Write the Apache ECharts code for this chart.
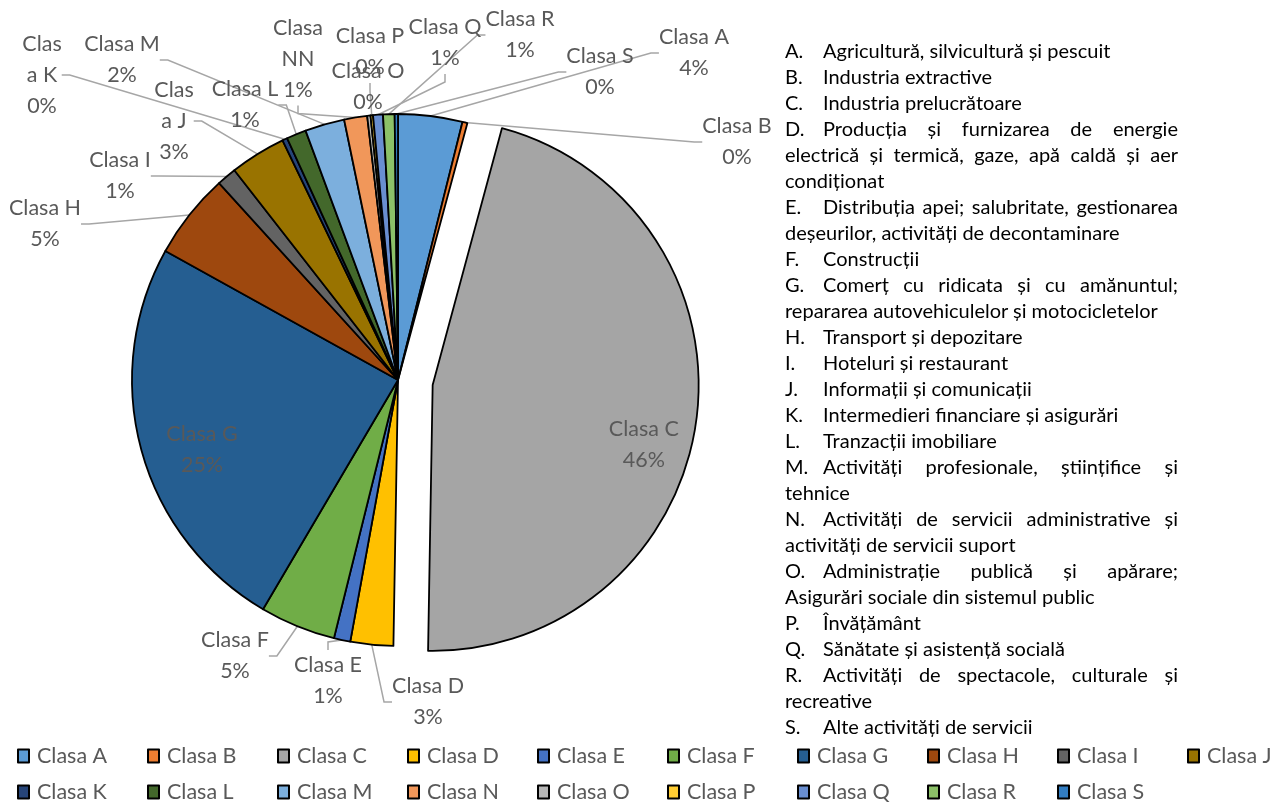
<!DOCTYPE html>
<html><head><meta charset="utf-8">
<script src="https://cdn.jsdelivr.net/npm/echarts@6/dist/echarts.min.js"></script>
<style>
html,body{margin:0;padding:0;background:#fff;}
#wrap{position:relative;width:1278px;height:803px;overflow:hidden;}
#chart{position:absolute;left:0;top:0;width:1278px;height:803px;}
#notes{position:absolute;left:785px;top:37px;width:393px;font-family:Lato,"Open Sans",sans-serif;font-size:20px;line-height:26px;color:#000;}
#notes .ln{white-space:nowrap;height:26px;}
#notes .j{text-align:justify;text-align-last:justify;white-space:normal;}
#notes .k{display:inline-block;width:38px;}
</style></head>
<body>
<div id="wrap"><div id="chart"></div><div id="notes"></div></div>
<script>
const categories = ['Clasa A','Clasa B','Clasa C','Clasa D','Clasa E','Clasa F','Clasa G','Clasa H','Clasa I','Clasa J','Clasa K','Clasa L','Clasa M','Clasa N','Clasa O','Clasa P','Clasa Q','Clasa R','Clasa S'];
const values = [3.9, 0.3, 46.1, 2.6, 1.0, 4.6, 24.6, 5.2, 1.2, 3.4, 0.3, 1.2, 2.4, 1.4, 0.2, 0.15, 0.6, 0.7, 0.2];
const labelTexts = ['Clasa A','Clasa B','Clasa C','Clasa D','Clasa E','Clasa F','Clasa G','Clasa H','Clasa I','Clas\na J','Clas\na K','Clasa L','Clasa M','Clasa\nNN','Clasa O','Clasa P','Clasa Q','Clasa R','Clasa S'];
const colors = ['#5B9BD5','#ED7D31','#A5A5A5','#FFC000','#4472C4','#70AD47','#255E91','#9E480E','#636363','#997300','#264478','#43682B','#7CAFDD','#F1975A','#B7B7B7','#FFCD33','#698ED0','#8CC168','#327DC2'];
const explodedIndex = 2;
const insideLabels = [2, 6];
// label anchor positions (label centres); null = library's own placement
const labelPos = [[694,53],[737,142],null,[428,702],[328,681],[235,656],[202,450],[45,224],[120,176],[174,121],[42,75],[245,105],[122,60],[298,59],[368,87],[370,52],[445,43],[520,35],[600,72]];
const explodedLabelPadding = [0, 0, 0, 153];
const explodedLabelSpacer = 82;
const notes = [
  ['A.','Agricultură, silvicultură și pescuit',0],
  ['B.','Industria extractive',0],
  ['C.','Industria prelucrătoare',0],
  ['D.','Producția și furnizarea de energie',1],
  ['','electrică și termică, gaze, apă caldă și aer',1],
  ['','condiționat',0],
  ['E.','Distribuția apei; salubritate, gestionarea',1],
  ['','deșeurilor, activități de decontaminare',0],
  ['F.','Construcții',0],
  ['G.','Comerț cu ridicata și cu amănuntul;',1],
  ['','repararea autovehiculelor și motocicletelor',0],
  ['H.','Transport și depozitare',0],
  ['I.','Hoteluri și restaurant',0],
  ['J.','Informații și comunicații',0],
  ['K.','Intermedieri financiare și asigurări',0],
  ['L.','Tranzacții imobiliare',0],
  ['M.','Activități profesionale, științifice și',1],
  ['','tehnice',0],
  ['N.','Activități de servicii administrative și',1],
  ['','activități de servicii suport',0],
  ['O.','Administrație publică și apărare;',1],
  ['','Asigurări sociale din sistemul public',0],
  ['P.','Învățământ',0],
  ['Q.','Sănătate și asistență socială',0],
  ['R.','Activități de spectacole, culturale și',1],
  ['','recreative',0],
  ['S.','Alte activități de servicii',0]
];

const notesEl = document.getElementById('notes');
notes.forEach(n => {
  const d = document.createElement('div');
  d.className = 'ln' + (n[2] ? ' j' : '');
  if (n[0]) { const s = document.createElement('span'); s.className = 'k'; s.textContent = n[0]; d.appendChild(s); }
  d.appendChild(document.createTextNode(n[1]));
  notesEl.appendChild(d);
});

const fmt = p => labelTexts[p.dataIndex] + '\n' + Math.round(p.percent) + '%';
const chart = echarts.init(document.getElementById('chart'), null, {renderer: 'canvas'});
const data = categories.map((c, i) => {
  const item = {name: c, value: values[i], itemStyle: {color: colors[i]}};
  if (i === explodedIndex) {
    item.selected = true;
    item.label = {
      position: 'inside', padding: explodedLabelPadding,
      formatter: p => '{s|}\n' + labelTexts[p.dataIndex] + '\n' + Math.round(p.percent) + '%',
      rich: {s: {lineHeight: explodedLabelSpacer, height: explodedLabelSpacer}}
    };
  }
  if (insideLabels.indexOf(i) >= 0) item.labelLine = {show: false};
  return item;
});
chart.setOption({
  animation: false,
  legend: {
    data: categories,
    left: 17, top: 742, width: 1310,
    padding: 0,
    orient: 'horizontal',
    itemWidth: 11, itemHeight: 13, itemGap: 8.0,
    icon: 'rect',
    selectedMode: false,
    textStyle: {fontFamily: 'Lato', fontSize: 21.5, color: '#595959', width: 102, lineHeight: 28, padding: [0,0,0,3], overflow: 'none'}
  },
  series: [{
    type: 'pie',
    center: [398, 380],
    radius: [0, 266],
    startAngle: 90,
    clockwise: true,
    selectedMode: 'single',
    selectedOffset: 35,
    avoidLabelOverlap: false,
    emphasis: {disabled: true},
    itemStyle: {borderColor: '#000', borderWidth: 1.8},
    select: {itemStyle: {borderColor: '#000', borderWidth: 1.8}},
    label: {
      show: true,
      position: 'outside',
      fontFamily: 'Lato',
      fontSize: 21.5,
      lineHeight: 31,
      color: '#595959',
      align: 'center',
      formatter: fmt
    },
    labelLine: {show: true, length: 8, length2: 8, lineStyle: {color: '#A6A6A6', width: 1.5}},
    labelLayout: p => {
      const pos = labelPos[p.dataIndex];
      if (!pos) return {};
      return {x: pos[0], y: pos[1], align: 'center', verticalAlign: 'middle'};
    },
    data: data
  }]
});
</script>
</body></html>
